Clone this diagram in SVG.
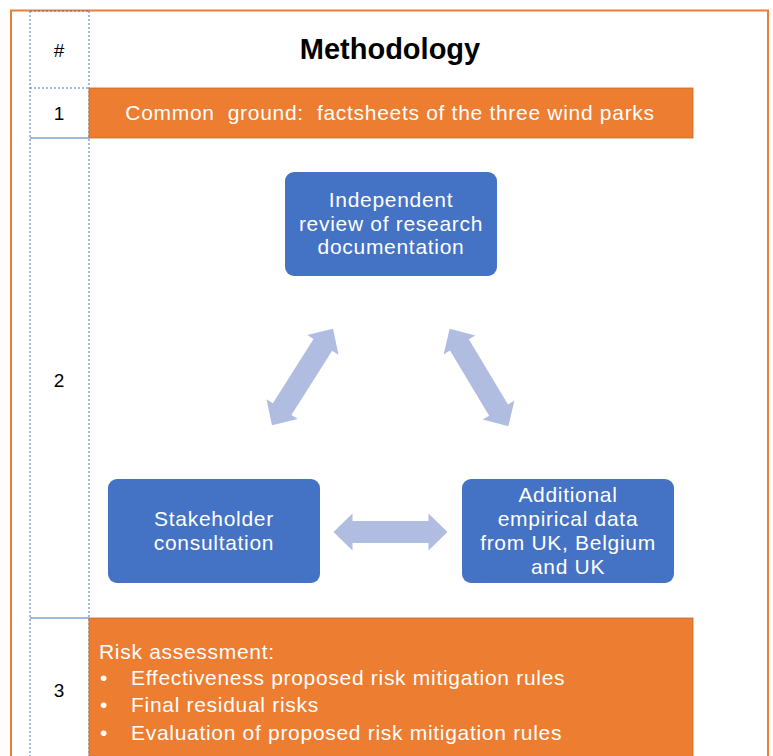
<svg xmlns="http://www.w3.org/2000/svg" width="773" height="756" viewBox="0 0 773 756">
<defs>
<style>
.num{font-family:"Liberation Sans",Arial,sans-serif;font-size:19px;fill:#000;text-anchor:middle}
.wt{font-family:"Liberation Sans",Arial,sans-serif;font-size:21px;fill:#fff;letter-spacing:0.7px}
.box{fill:#4472C4}
.bar{fill:#ED7D31}
.arr{fill:#B0BDE0}
.grid{stroke:#4472C4;stroke-width:1;fill:none}
.dot{stroke-dasharray:2 2}
</style>
<polygon id="dbl" points="-57,0 -38,-18.5 -38,-11 38,-11 38,-18.5 57,0 38,18.5 38,11 -38,11 -38,18.5"/>
</defs>
<rect width="773" height="756" fill="#fff"/>
<path d="M11,760 V10.5 H768 V760" fill="none" stroke="#ED7D31" stroke-width="2"/>
<g id="grid">
<line class="grid dot" x1="30" y1="11" x2="30" y2="756"/>
<line class="grid dot" x1="89" y1="11" x2="89" y2="756"/>
<line class="grid dot" x1="30" y1="11" x2="89" y2="11"/>
<line class="grid dot" x1="30" y1="88" x2="89" y2="88"/>
<line class="grid" x1="30" y1="138" x2="89" y2="138"/>
<line class="grid" x1="30" y1="618" x2="89" y2="618"/>
</g>
<g id="header">
<text class="num" x="59" y="57">#</text>
<text x="390" y="59" font-family="'Liberation Sans',Arial,sans-serif" font-size="29" font-weight="bold" text-anchor="middle">Methodology</text>
</g>
<g id="row1">
<text class="num" x="59" y="120">1</text>
<rect class="bar" x="89" y="88" width="604" height="50" stroke="#C0692A" stroke-width="0.8"/>
<text class="wt" x="390" y="120" text-anchor="middle" xml:space="preserve">Common  ground:  factsheets of the three wind parks</text>
</g>
<g id="row2label"><text class="num" x="59" y="387">2</text></g>
<g id="review">
<rect class="box" x="285" y="172" width="212" height="104" rx="9"/>
<text class="wt" x="391" y="207" text-anchor="middle">Independent</text>
<text class="wt" x="391" y="231" text-anchor="middle">review of research</text>
<text class="wt" x="391" y="254" text-anchor="middle">documentation</text>
</g>
<g id="stakeholder">
<rect class="box" x="108" y="479" width="212" height="104" rx="9"/>
<text class="wt" x="214" y="526" text-anchor="middle">Stakeholder</text>
<text class="wt" x="214" y="550" text-anchor="middle">consultation</text>
</g>
<g id="empirical">
<rect class="box" x="462" y="479" width="212" height="104" rx="9"/>
<text class="wt" x="568" y="502" text-anchor="middle">Additional</text>
<text class="wt" x="568" y="526" text-anchor="middle">empirical data</text>
<text class="wt" x="568" y="550" text-anchor="middle">from UK, Belgium</text>
<text class="wt" x="568" y="574" text-anchor="middle">and UK</text>
</g>
<g id="connectors" class="arr">
<use href="#dbl" transform="translate(302.5,377) rotate(-57.6)"/>
<use href="#dbl" transform="translate(479,377.5) rotate(59)"/>
<use href="#dbl" transform="translate(390.5,532)"/>
</g>
<g id="row3">
<text class="num" x="59" y="697">3</text>
<rect class="bar" x="89" y="618" width="604" height="145" stroke="#C0692A" stroke-width="0.8"/>
<text class="wt" x="99" y="659">Risk assessment:</text>
<text class="wt" x="100" y="685">•</text>
<text class="wt" x="131" y="685">Effectiveness proposed risk mitigation rules</text>
<text class="wt" x="100" y="712">•</text>
<text class="wt" x="131" y="712">Final residual risks</text>
<text class="wt" x="100" y="740">•</text>
<text class="wt" x="131" y="740">Evaluation of proposed risk mitigation rules</text>
</g>
</svg>
